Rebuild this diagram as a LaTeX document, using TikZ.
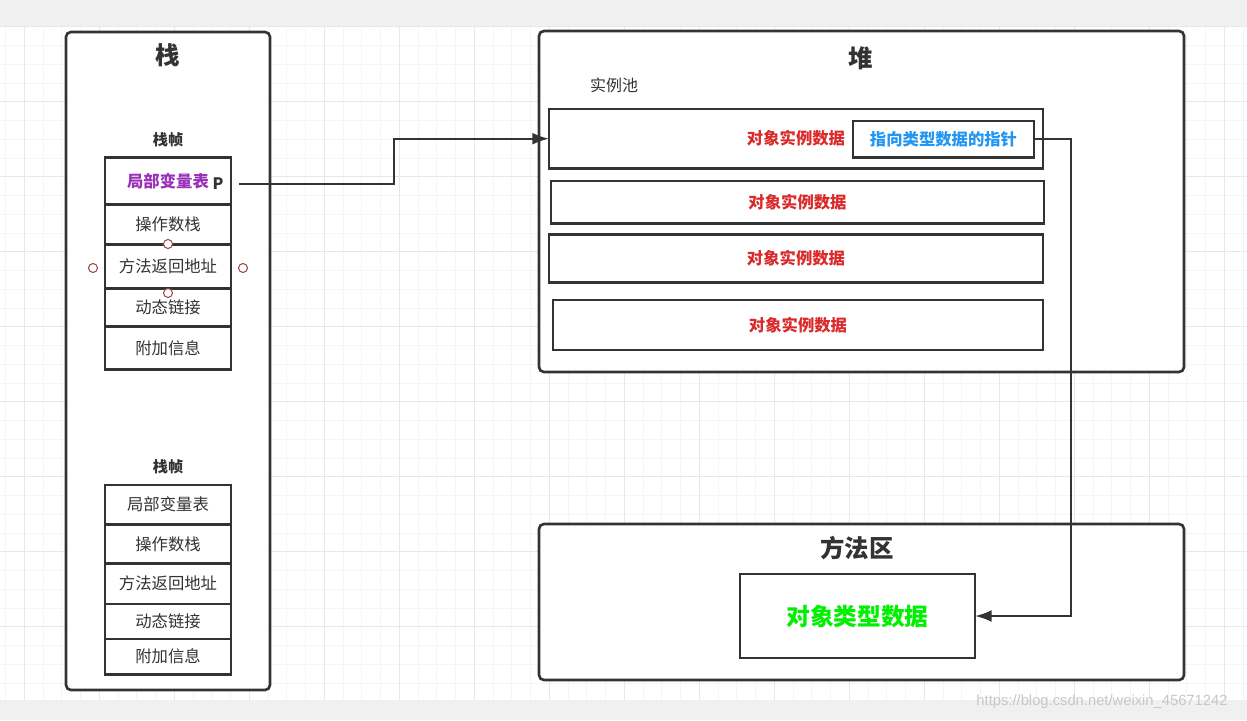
\documentclass[tikz,border=0pt]{standalone}
\usepackage{fontspec}
\setmainfont{Noto Sans CJK SC}
\newfontfamily\wmfont{Liberation Sans}
\usetikzlibrary{arrows.meta,calc}
\definecolor{ink}{HTML}{333333}
\definecolor{bar}{HTML}{F0F0F0}
\definecolor{gridmin}{HTML}{F5F5F5}
\definecolor{gridmaj}{HTML}{E8E8E8}
\definecolor{localvar}{HTML}{9B30B8}
\definecolor{objred}{HTML}{D92B2B}
\definecolor{ptrblue}{HTML}{2196F3}
\definecolor{typegreen}{HTML}{00F000}
\definecolor{handle}{HTML}{A04848}
\newlength\pxu
\setlength\pxu{0.02cm}
\tikzset{
  >={Latex[length=9.5pt,width=6.8pt]},
  every node/.style={text=ink,inner sep=0pt,outer sep=0pt},
  area/.style={draw=ink,line width=1.5pt,rounded corners=2.8pt,fill=white},
  title/.style={font=\fontsize{13.9pt}{16pt}\selectfont\bfseries},
  frametitle/.style={font=\fontsize{8.6pt}{10pt}\selectfont\bfseries},
  cell/.style={draw=ink,line width=1.6pt,minimum width=126\pxu,fill=white,align=center,font=\fontsize{9.3pt}{11pt}\selectfont},
  objbox/.style={draw=ink,line width=1.6pt,fill=white,text=objred,font=\fontsize{9.3pt}{11pt}\selectfont\bfseries},
  handledot/.style={circle,draw=handle,line width=0.6pt,fill=white,minimum size=9\pxu},
  link/.style={->,line width=1.25pt,draw=ink},
}
\begin{document}
\begin{tikzpicture}[x=1\pxu,y=-1\pxu]
  \useasboundingbox (0,0) rectangle (1247,720);
  % background grid and bars
  \foreach \gx in {5.55,24.3,...,1247}
    \draw[gridmin,line width=0.5pt] (\gx,26) -- (\gx,700);
  \foreach \gy in {26.7,45.45,...,700}
    \draw[gridmin,line width=0.5pt] (0,\gy) -- (1247,\gy);
  \foreach \gx in {24.3,99.3,...,1247}
    \draw[gridmaj,line width=0.5pt] (\gx,26) -- (\gx,700);
  \foreach \gy in {26.7,101.7,...,700}
    \draw[gridmaj,line width=0.5pt] (0,\gy) -- (1247,\gy);
  \fill[bar] (0,0) rectangle (1247,26);
  \fill[bar] (0,700) rectangle (1247,720);

  % stack
  \node[area,minimum width=204\pxu,minimum height=658\pxu] (stack) at (168,361) {};
  \node[title] (stacktitle) at (168,55) {栈};
  \node[frametitle] (frame1title) at (168,140) {栈帧};
  \node[cell,minimum height=46.6\pxu,text=localvar,font=\fontsize{9.3pt}{11pt}\selectfont\bfseries] (f1local) at (168,181) {局部变量表};
  \node[cell,minimum height=40\pxu] (f1operand) at (168,224.3) {操作数栈};
  \node[cell,minimum height=44\pxu] (f1return) at (168,266.3) {方法返回地址};
  \node[cell,minimum height=38.4\pxu] (f1dynamic) at (168,307.5) {动态链接};
  \node[cell,minimum height=42.6\pxu] (f1extra) at (168,348) {附加信息};
  \node[font=\fontsize{9pt}{11pt}\selectfont\bfseries] (pmark) at (218,184) {P};
  \coordinate (pstart) at (239,184);
  \foreach \n/\hx/\hy in {htop/168/244,hleft/93/268,hright/243/268,hbottom/168/293}
    \node[handledot] (\n) at (\hx,\hy) {};

  \node[frametitle] (frame2title) at (168,467) {栈帧};
  \foreach \n/\cy/\ch/\txt in {local/504.7/39.3/局部变量表,operand/543.8/39/操作数栈,return/583.7/40.7/方法返回地址,dynamic/621.5/35/动态链接,extra/656.7/35.3/附加信息}
    \node[cell,minimum height=\ch\pxu] (f2\n) at (168,\cy) {\txt};

  % heap
  \node[area,minimum width=645\pxu,minimum height=341\pxu] (heap) at (861.5,201.5) {};
  \node[title] (heaptitle) at (861,58) {堆};
  \node[font=\fontsize{9.1pt}{11pt}\selectfont] (pool) at (614,85) {实例池};
  \node[objbox,minimum width=494\pxu,minimum height=59.3\pxu] (inst1) at (796,138.7) {对象实例数据};
  \node[objbox,minimum width=493\pxu,minimum height=42.7\pxu] (inst2) at (797.5,202.3) {对象实例数据};
  \node[objbox,minimum width=494\pxu,minimum height=48\pxu] (inst3) at (796,258.3) {对象实例数据};
  \node[objbox,minimum width=490\pxu,minimum height=50\pxu] (inst4) at (798,325) {对象实例数据};
  \node[objbox,text=ptrblue,minimum width=181\pxu,minimum height=36.7\pxu] (typeptr) at (943.5,139.3) {指向类型数据的指针};

  % method area
  \node[area,minimum width=645\pxu,minimum height=156\pxu] (method) at (861.5,602) {};
  \node[title] (methodtitle) at (857,548) {方法区};
  \node[draw=ink,line width=1.6pt,fill=white,minimum width=235\pxu,minimum height=84\pxu,text=typegreen,font=\fontsize{13.5pt}{16pt}\selectfont\bfseries] (typedata) at (857.5,616) {对象类型数据};

  % references
  \draw[link] (pstart) -- ++(155,0) |- (inst1.west);
  \draw[link] (typeptr.east) -- ++(37,0) |- (typedata.east);

  \node[text=black!22,font=\wmfont\fontsize{8.4pt}{10pt}\selectfont] (watermark) at (1102,702) {https://blog.csdn.net/weixin\_45671242};
\end{tikzpicture}
\end{document}
